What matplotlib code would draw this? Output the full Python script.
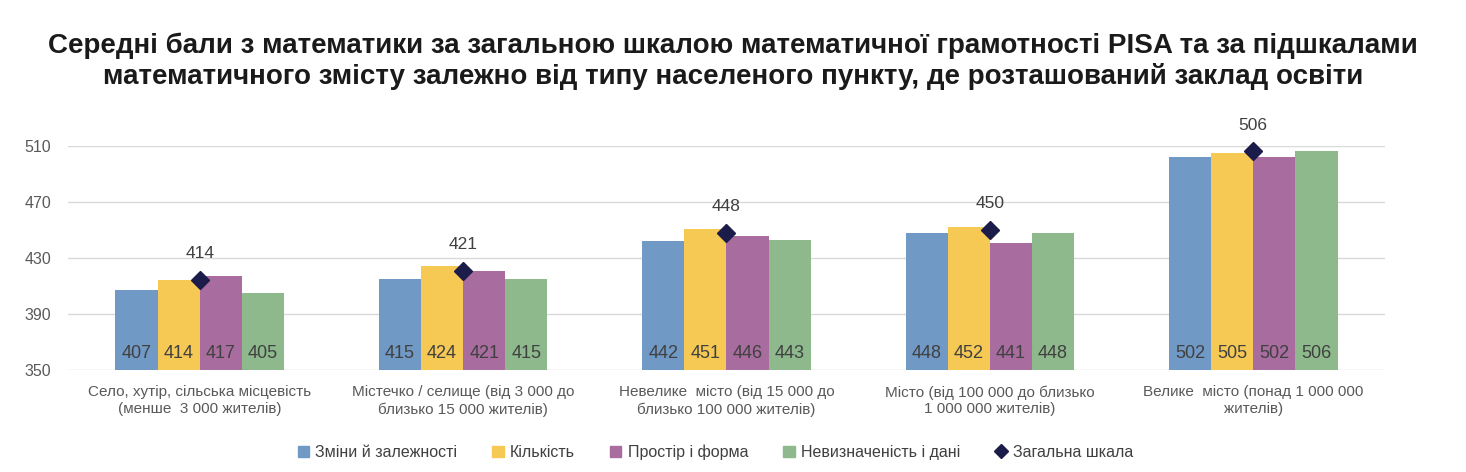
import matplotlib.pyplot as plt
import numpy as np
from matplotlib.lines import Line2D
from matplotlib.patches import Patch

plt.rcParams['font.family'] = ['Liberation Sans', 'DejaVu Sans']

categories = ["Село, хутір, сільська місцевість\n(менше  3 000 жителів)",
              "Містечко / селище (від 3 000 до\nблизько 15 000 жителів)",
              "Невелике  місто (від 15 000 до\nблизько 100 000 жителів)",
              "Місто (від 100 000 до близько\n1 000 000 жителів)",
              "Велике  місто (понад 1 000 000\nжителів)"]
series_names = ["Зміни й залежності", "Кількість", "Простір і форма", "Невизначеність і дані"]
changes = [407, 415, 442, 448, 502]
quantity = [414, 424, 451, 452, 505]
space = [417, 421, 446, 441, 502]
uncertainty = [405, 415, 443, 448, 506]
overall = [414, 421, 448, 450, 506]
overall_name = "Загальна шкала"
yticks = [350, 390, 430, 470, 510]

colors = ["#7099C6", "#F6C955", "#A86C9F", "#8DB98C"]
diamond = "#1C1C4A"

fig = plt.figure(figsize=(14.66, 4.72), dpi=100)
ax = fig.add_axes([0.0464, 0.216, 0.8983, 0.475])

x = np.arange(len(categories))
w = 0.16
for i, vals in enumerate([changes, quantity, space, uncertainty]):
    pos = x + (i - 1.5) * w
    ax.bar(pos, [v - 350 for v in vals], w, bottom=350, color=colors[i], zorder=2)
    for p, v in zip(pos, vals):
        ax.text(p, 362, str(v), ha='center', va='center', fontsize=13, color='#404040', zorder=3)

ax.plot(x, overall, 'D', color=diamond, markersize=9, linestyle='none', zorder=4, clip_on=False)
for xi, v in zip(x, overall):
    ax.annotate(str(v), (xi, v), xytext=(0, 19), textcoords='offset points',
                ha='center', va='center', fontsize=12.5, color='#404040')

ax.set_xlim(-0.5, 4.5)
ax.set_ylim(350, 510)
ax.set_yticks(yticks)
ax.set_xticks(x)
ax.set_xticklabels(categories, fontsize=11, color='#595959', linespacing=1.25)
ax.tick_params(axis='both', length=0, colors='#595959')
ax.tick_params(axis='y', labelsize=11.5, pad=12)
ax.tick_params(axis='x', pad=11)
ax.grid(axis='y', color='#D9D9D9', linewidth=1, zorder=0)
for s in ax.spines.values():
    s.set_visible(False)

fig.suptitle("Середні бали з математики за загальною шкалою математичної грамотності PISA та за підшкалами\n"
             "математичного змісту залежно від типу населеного пункту, де розташований заклад освіти",
             fontsize=20, fontweight='bold', x=0.5, y=0.932, color='#1a1a1a', linespacing=1.2)

handles = [Patch(color=c) for c in colors]
handles.append(Line2D([], [], marker='D', color=diamond, linestyle='none', markersize=7))
fig.legend(handles, series_names + [overall_name], loc='center', bbox_to_anchor=(0.488, 0.042),
           ncol=5, frameon=False, fontsize=11.5, handlelength=0.7, handleheight=0.7,
           handletextpad=0.4, columnspacing=2.2, labelcolor='#404040')

fig.savefig("out.png", dpi=100)
